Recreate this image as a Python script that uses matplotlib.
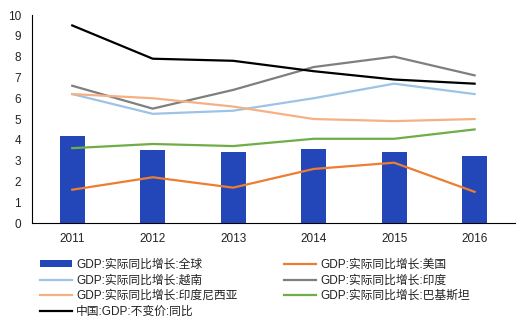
import matplotlib
matplotlib.use("Agg")
import matplotlib.pyplot as plt
import numpy as np

plt.rcParams['font.family'] = ['Liberation Sans', 'Noto Sans CJK SC', 'DejaVu Sans']

years = ["2011", "2012", "2013", "2014", "2015", "2016"]
world = [4.2, 3.5, 3.4, 3.55, 3.4, 3.2]
usa = [1.6, 2.2, 1.7, 2.6, 2.9, 1.5]
vietnam = [6.2, 5.25, 5.4, 6.0, 6.7, 6.2]
india = [6.6, 5.5, 6.4, 7.5, 8.0, 7.1]
indonesia = [6.2, 6.0, 5.6, 5.0, 4.9, 5.0]
pakistan = [3.6, 3.8, 3.7, 4.05, 4.05, 4.5]
china = [9.5, 7.9, 7.8, 7.3, 6.9, 6.7]

labels = [
    "GDP:实际同比增长:全球",
    "GDP:实际同比增长:美国",
    "GDP:实际同比增长:越南",
    "GDP:实际同比增长:印度",
    "GDP:实际同比增长:印度尼西亚",
    "GDP:实际同比增长:巴基斯坦",
    "中国:GDP:不变价:同比",
]

fig = plt.figure(figsize=(5.30, 3.27), dpi=100)
ax = fig.add_axes([0.0604, 0.318, 0.911, 0.636])

x = np.arange(len(years))
h_bar = ax.bar(x, world, width=0.31, color="#2347B8", zorder=2)
lw = 1.6
h_us, = ax.plot(x, usa, color="#ED7D31", lw=lw, zorder=3)
h_vn, = ax.plot(x, vietnam, color="#9DC3E6", lw=lw, zorder=3)
h_in, = ax.plot(x, india, color="#7F7F7F", lw=lw, zorder=3)
h_id, = ax.plot(x, indonesia, color="#F4B183", lw=lw, zorder=3)
h_pk, = ax.plot(x, pakistan, color="#70AD47", lw=lw, zorder=3)
h_cn, = ax.plot(x, china, color="#000000", lw=lw, zorder=4)

ax.set_xlim(-0.5, len(years) - 0.5)
ax.set_ylim(0, 10)
ax.set_yticks(range(0, 11))
ax.set_xticks(x)
ax.set_xticklabels(years)
ax.tick_params(axis="both", length=0, labelsize=8.5, colors="#222222")
ax.tick_params(axis="y", pad=8)
ax.tick_params(axis="x", pad=7)
for s in ["top", "right"]:
    ax.spines[s].set_visible(False)
ax.spines["left"].set_color("black")
ax.spines["bottom"].set_color("black")

# legend entries filled row by row across two columns
handles = [h_bar, h_us, h_vn, h_in, h_id, h_pk, h_cn]
order = [0, 2, 4, 6, 1, 3, 5]
leg = fig.legend([handles[i] for i in order], [labels[i] for i in order],
                 loc="upper left", bbox_to_anchor=(0.075, 0.208),
                 ncol=2, frameon=False, fontsize=8.5, handlelength=2.7,
                 handleheight=0.5, handletextpad=0.4, columnspacing=3.9,
                 labelspacing=0.3, borderaxespad=0, borderpad=0)
for t in leg.get_texts():
    t.set_color("#222222")

fig.savefig("out.png", dpi=100)
